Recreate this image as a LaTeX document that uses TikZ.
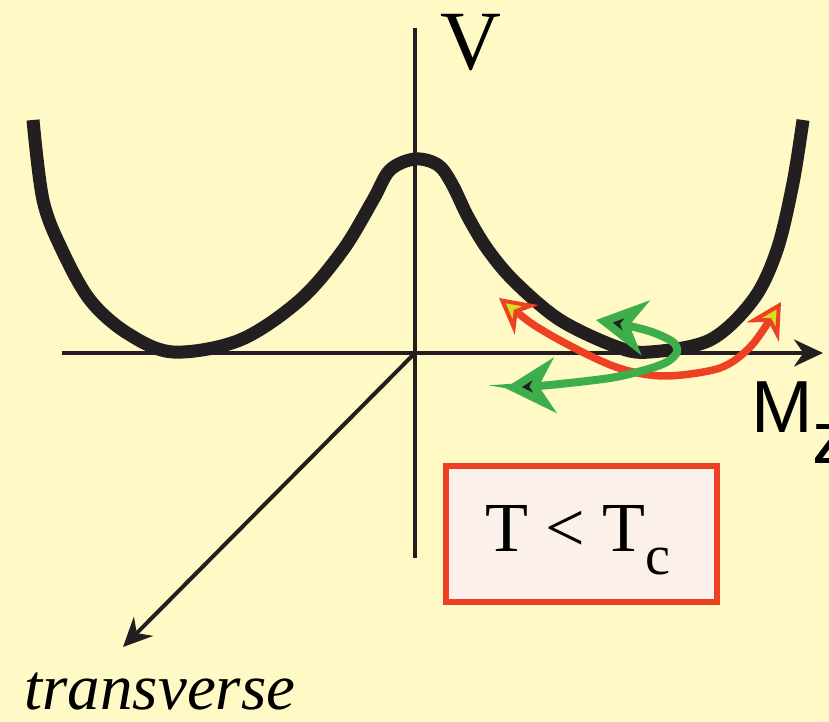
\documentclass[tikz,border=0pt]{standalone}
\usepackage{fontspec}
\setmainfont{Liberation Serif}
\newfontfamily\axisfont{Liberation Sans}
\usetikzlibrary{arrows.meta}

\definecolor{bgyellow}{HTML}{FFF9C5}
\definecolor{ink}{HTML}{231F20}
\definecolor{hotred}{HTML}{EE4123}
\definecolor{leafgreen}{HTML}{3EAE4A}
\definecolor{tipyellow}{HTML}{D6DC1E}
\definecolor{boxpink}{HTML}{FBF1EA}

\begin{document}
\begin{tikzpicture}[
    x=0.02cm, y=-0.02cm,
    axis/.style={draw=ink, line width=0.08cm},
    axistip/.style={-{Stealth[length=0.58cm, width=0.54cm]}},
    potential/.style={draw=ink, line width=0.26cm, line join=round},
    flip/.style={draw=hotred, line width=0.15cm,
        {Stealth[length=0.7cm, width=0.75cm, line width=0.08cm, fill=tipyellow]}-{Stealth[length=0.7cm, width=0.75cm, line width=0.08cm, fill=tipyellow]}},
    wander/.style={draw=leafgreen, line width=0.16cm,
        {Stealth[length=1.0cm, width=1.1cm, fill=ink]}-{Stealth[length=1.0cm, width=1.1cm, fill=ink]}},
    tcbox/.style={draw=hotred, fill=boxpink, line width=0.13cm, minimum width=5.42cm, minimum height=2.72cm}
]
\fill[bgyellow] (0,0) rectangle (829,722);
\clip (0,0) rectangle (829,722);

% axes
\coordinate (origin) at (415,353);
\coordinate (vtop) at (415,28);
\coordinate (vbot) at (415,558);
\coordinate (mleft) at (62,353);
\coordinate (mright) at (823,353);
\coordinate (trans) at (123,647);
\draw[axis] (vtop) -- (vbot);
\draw[axis, axistip] (mleft) -- (mright);
\draw[axis, axistip] (origin) -- (trans);

\node[anchor=base, font=\fontsize{48}{48}\selectfont] (vlabel) at (471,70) {V};
\node[anchor=base west, inner sep=0pt, font=\axisfont\fontsize{42}{42}\selectfont] (mlabel) at (751,433)
    {M\raisebox{-0.62cm}{z}};
\node[anchor=base, font=\itshape\fontsize{37}{37}\selectfont] (tlabel) at (160,710) {transverse};

% double well
\draw[potential] plot[smooth, tension=0.55] coordinates {
    (33,120) (43,200) (62,250) (90,300) (127,333) (173,352) (240,340) (300,300)
    (343,250) (373,200) (390,170) (415,159) (438,165) (452,184) (468,217)
    (488,250) (515,282) (560,320) (617,347) (650,352) (710,340) (753,300) (777,250)
    (793,183) (803,120)};

% flips between the minima
\coordinate (flipL) at (499,298);
\coordinate (flipR) at (781,302);
\draw[flip] plot[smooth] coordinates {
    (flipL) (547,333) (613,366) (663,376) (720,368) (752,345) (flipR)};

% fluctuation about one minimum
\coordinate (wanderA) at (596,320);
\coordinate (wanderB) at (505,388);
\draw[wander] plot[smooth] coordinates {
    (wanderA) (625,325) (652,332) (673,342) (677,352) (667,362) (645,370)
    (610,378) (550,385) (wanderB)};

\node[tcbox] (tcnode) at (581.5,534) {};
\node[anchor=base, font=\fontsize{40}{40}\selectfont] (tctext) at (578,552)
    {T < T\raisebox{-0.46cm}{\fontsize{32}{32}\selectfont c}};
\end{tikzpicture}
\end{document}
